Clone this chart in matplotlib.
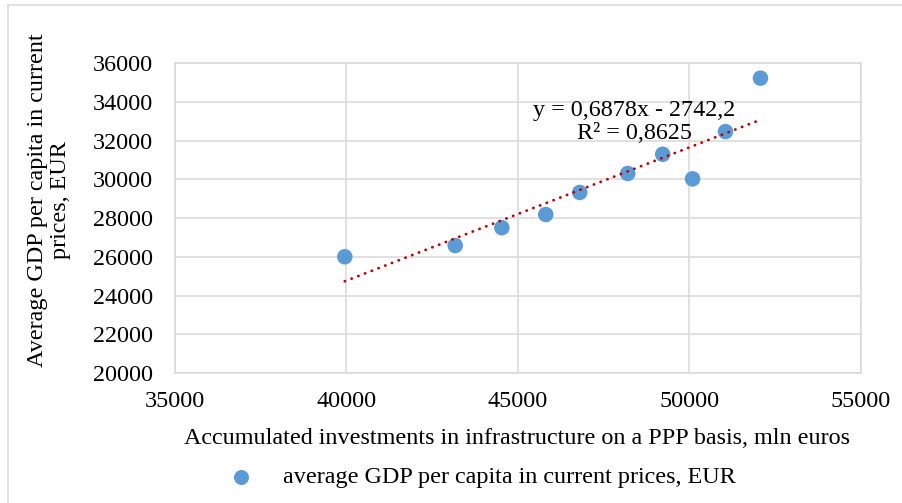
import numpy as np
import matplotlib
matplotlib.use('Agg')
import matplotlib.pyplot as plt
from matplotlib.lines import Line2D

plt.rcParams['font.family'] = ['Liberation Serif', 'DejaVu Serif']

# data
invest = [39950, 43170, 44530, 45810, 46800, 48200, 49220, 50090, 51050, 52070]
gdp = [26000, 26580, 27500, 28180, 29320, 30300, 31290, 30020, 32460, 35220]
slope, intercept = 0.6878, -2742.2
eq_text = 'y = 0,6878x - 2742,2\nR² = 0,8625'
xticks = [35000, 40000, 45000, 50000, 55000]
yticks = [20000, 22000, 24000, 26000, 28000, 30000, 32000, 34000, 36000]

fs = 17.4

fig = plt.figure(figsize=(9.02, 5.03), dpi=100)
ax = fig.add_axes([0.194, 0.2584, 0.7605, 0.6163])

grid_c = '#d9d9d9'
ax.set_xlim(35000, 55000)
ax.set_ylim(20000, 36000)
ax.set_xticks(xticks)
ax.set_yticks(yticks)
ax.grid(True, color=grid_c, linewidth=1.1)
ax.set_axisbelow(True)
for s in ax.spines.values():
    s.set_color(grid_c)
    s.set_linewidth(1.1)
ax.tick_params(length=0, labelsize=fs)
ax.tick_params(axis='y', pad=16)
ax.tick_params(axis='x', pad=13)

# trendline
xt = np.array([min(invest), max(invest)])
ax.plot(xt, slope * xt + intercept, color='#c00000', linewidth=2.0,
        linestyle=(0, (0.1, 2.5)), dash_capstyle='round', zorder=3)

ax.scatter(invest, gdp, s=125, color='#5b9bd5', edgecolors='none', zorder=2)

ax.text(0.670, 0.81, eq_text, transform=ax.transAxes, ha='center', va='center',
        multialignment='center', fontsize=fs, linespacing=1.15, zorder=4)

fig.text(0.573, 1 - 438 / 503, 'Accumulated investments in infrastructure on a PPP basis, mln euros',
         ha='center', va='center', fontsize=fs)
fig.text(49 / 902, 1 - 200 / 503, 'Average GDP per capita in current\nprices, EUR',
         ha='center', va='center', rotation=90, fontsize=fs, linespacing=1.12,
         multialignment='center')

# legend
fig.add_artist(Line2D([241 / 902], [1 - 477 / 503], marker='o', markersize=10.8,
                      color='#5b9bd5', markeredgewidth=0, linestyle='none'))
fig.text(283 / 902, 1 - 477 / 503, 'average GDP per capita in current prices, EUR',
         ha='left', va='center', fontsize=fs)

# outer chart border
fig.add_artist(Line2D([8 / 902, 8 / 902], [0, 1 - 5 / 503], color=grid_c, linewidth=1.1))
fig.add_artist(Line2D([8 / 902, 1], [1 - 5 / 503, 1 - 5 / 503], color=grid_c, linewidth=1.1))

fig.savefig('out.png', dpi=100)
